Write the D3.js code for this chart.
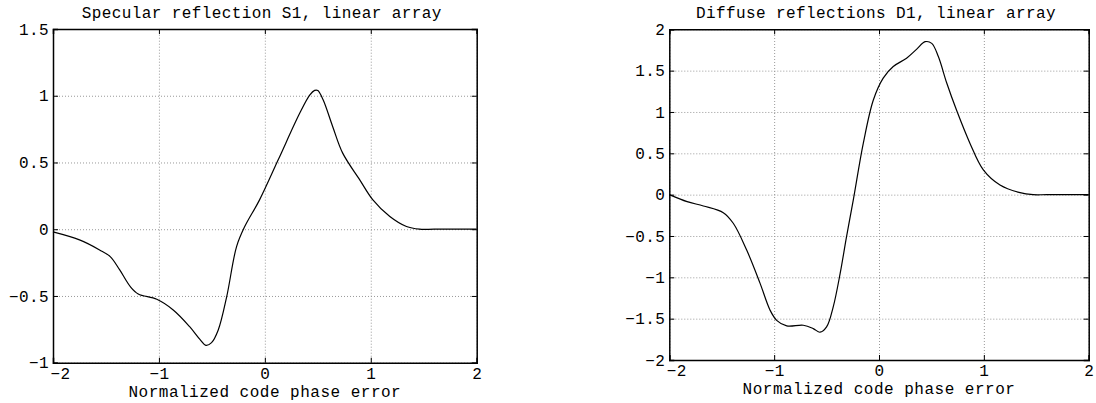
<!DOCTYPE html>
<html>
<head>
<meta charset="utf-8">
<script src="https://cdn.jsdelivr.net/npm/d3@7"></script>
<style>
  body { margin: 0; background: #fff; }
  svg { display: block; }
  text { font-family: "Liberation Mono", "DejaVu Sans Mono", monospace; }
</style>
</head>
<body>
<div id="chart"></div>
<script>
document.addEventListener("DOMContentLoaded", function() {

  // code phase error axis, shared by both panels
  const xTicks = [-2, -1, 0, 1, 2];
  const xTickLabels = ["−2", "−1", "0", "1", "2"];

  // Specular reflection S1
  const s1Ticks = [-1, -0.5, 0, 0.5, 1, 1.5];
  const s1TickLabels = ["−1", "−0.5", "0", "0.5", "1", "1.5"];
  const s1X = [-2, -1.75, -1.56, -1.46, -1.37, -1.27, -1.195, -1.02, -0.865, -0.71, -0.613, -0.557, -0.503, -0.44, -0.36, -0.267, -0.19, -0.05, 0.126, 0.33, 0.425, 0.47, 0.5, 0.55, 0.64, 0.735, 0.896, 1.02, 1.18, 1.337, 1.46, 1.6, 2];
  const s1Y = [-0.02, -0.08, -0.155, -0.205, -0.305, -0.43, -0.485, -0.525, -0.605, -0.73, -0.825, -0.87, -0.85, -0.755, -0.505, -0.13, 0.02, 0.22, 0.52, 0.87, 1.006, 1.04, 1.04, 0.97, 0.77, 0.57, 0.37, 0.22, 0.095, 0.02, 0, 0, 0];

  // Diffuse reflections D1
  const d1Ticks = [-2, -1.5, -1, -0.5, 0, 0.5, 1, 1.5, 2];
  const d1TickLabels = ["−2", "−1.5", "−1", "−0.5", "0", "0.5", "1", "1.5", "2"];
  const d1X = [-2, -1.83, -1.675, -1.485, -1.39, -1.262, -1.135, -1.04, -0.976, -0.88, -0.722, -0.627, -0.563, -0.5, -0.436, -0.37, -0.31, -0.245, -0.15, -0.054, 0.04, 0.136, 0.263, 0.36, 0.44, 0.503, 0.566, 0.646, 0.74, 0.868, 0.995, 1.154, 1.345, 1.47, 1.6, 2];
  const d1Y = [0, -0.085, -0.137, -0.218, -0.346, -0.67, -1.07, -1.394, -1.52, -1.588, -1.58, -1.62, -1.664, -1.6, -1.354, -0.95, -0.51, -0.064, 0.62, 1.145, 1.41, 1.55, 1.65, 1.76, 1.85, 1.83, 1.67, 1.35, 1.02, 0.62, 0.3, 0.117, 0.024, 0, 0, 0];

  const W = 1096, H = 403;
  const fontSize = 16;

  const svg = d3.select("#chart")
    .append("svg")
    .attr("width", W)
    .attr("height", H);

  function drawPanel(p) {
    const g = svg.append("g")
      .attr("transform", `translate(${p.left},${p.top})`);

    const x = d3.scaleLinear().domain([-2, 2]).range([0, p.width]);
    const y = d3.scaleLinear().domain(d3.extent(p.yTicks)).range([p.height, 0]);

    // dotted grid
    const gridX = g.append("g")
      .attr("transform", `translate(0,${p.height})`)
      .call(d3.axisBottom(x).tickValues(xTicks).tickSize(-p.height).tickFormat(""));
    const gridY = g.append("g")
      .call(d3.axisLeft(y).tickValues(p.yTicks).tickSize(-p.width).tickFormat(""));
    [gridX, gridY].forEach(gr => {
      gr.select(".domain").remove();
      gr.selectAll("line")
        .attr("stroke", "#999")
        .attr("stroke-dasharray", "1,2");
    });

    // the curve
    const pts = p.xs.map((v, i) => [v, p.ys[i]]);
    g.append("path")
      .datum(pts)
      .attr("fill", "none")
      .attr("stroke", "#000")
      .attr("stroke-width", 1.2)
      .attr("d", d3.line()
        .x(d => x(d[0]))
        .y(d => y(d[1]))
        .curve(d3.curveCatmullRom.alpha(0.5)));

    // axes with inward ticks
    const bottom = g.append("g")
      .attr("transform", `translate(0,${p.height})`)
      .call(d3.axisBottom(x).tickValues(xTicks).tickSize(-5).tickPadding(4.5)
        .tickFormat((d, i) => xTickLabels[i]));
    const left = g.append("g")
      .call(d3.axisLeft(y).tickValues(p.yTicks).tickSize(-5).tickPadding(4)
        .tickFormat((d, i) => p.yTickLabels[i]));
    const top = g.append("g")
      .call(d3.axisTop(x).tickValues(xTicks).tickSize(-5).tickFormat(""));
    const right = g.append("g")
      .attr("transform", `translate(${p.width},0)`)
      .call(d3.axisRight(y).tickValues(p.yTicks).tickSize(-5).tickFormat(""));

    [bottom, left, top, right].forEach(ax => {
      ax.attr("font-family", null).attr("font-size", null);
      ax.select(".domain").attr("stroke", "#000").attr("stroke-width", 1.5);
      ax.selectAll("line").attr("stroke", "#000");
      ax.selectAll("text")
        .attr("fill", "#000")
        .style("font-size", fontSize + "px")
        .attr("letter-spacing", 0.4);
    });

    // keep the corner "−2" clear of the lowest y label
    bottom.selectAll(".tick text")
      .filter((d, i) => i === 0)
      .attr("text-anchor", "start")
      .attr("x", -3);

    g.append("text")
      .attr("x", p.width / 2 - 3)
      .attr("y", -11)
      .attr("text-anchor", "middle")
      .style("font-size", fontSize + "px")
      .attr("letter-spacing", 0.4)
      .text(p.title);

    g.append("text")
      .attr("x", p.width / 2)
      .attr("y", p.height + 34)
      .attr("text-anchor", "middle")
      .style("font-size", fontSize + "px")
      .attr("letter-spacing", 0.5)
      .text("Normalized code phase error");
  }

  drawPanel({
    left: 53, top: 29, width: 423.7, height: 333.7,
    yTicks: s1Ticks, yTickLabels: s1TickLabels,
    xs: s1X, ys: s1Y,
    title: "Specular reflection S1, linear array"
  });

  drawPanel({
    left: 669.3, top: 29.3, width: 419.4, height: 330.7,
    yTicks: d1Ticks, yTickLabels: d1TickLabels,
    xs: d1X, ys: d1Y,
    title: "Diffuse reflections D1, linear array"
  });
});
</script>
</body>
</html>
